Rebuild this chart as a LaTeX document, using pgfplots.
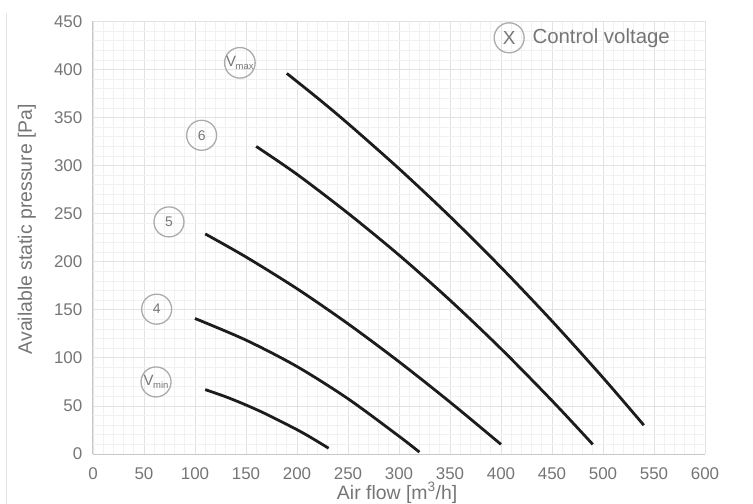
\documentclass[border=0pt]{standalone}
\usepackage{pgfplots}
\pgfplotsset{compat=1.18}
\usepackage{fontspec}
\setmainfont{Liberation Sans}
\definecolor{txt}{HTML}{757575}
\definecolor{gridmaj}{HTML}{E2E2E2}
\definecolor{gridmin}{HTML}{F1F1F1}
\definecolor{axisc}{HTML}{C8C8C8}
\definecolor{circc}{HTML}{ABABAB}
\definecolor{curve}{HTML}{1C1C1C}
\begin{document}
\begin{tikzpicture}
\begin{axis}[
  scale only axis, width=612bp, height=432.5bp,
  xmin=0, xmax=600, ymin=0, ymax=450,
  xtick={0,50,...,600}, ytick={0,50,...,450},
  minor x tick num=4, minor y tick num=4,
  grid=both,
  major grid style={draw=gridmaj, line width=0.8bp},
  minor grid style={draw=gridmin, line width=0.8bp},
  axis x line*=bottom, axis y line*=left,
  axis line style={draw=axisc, line width=1bp, -},
  major tick length=0pt, minor tick length=0pt,
  tick style={draw=none},
  /pgf/number format/assume math mode=true,
  ticklabel style={font=\fontsize{17}{20}\selectfont, text=txt},
  xticklabel style={yshift=-10bp},
  yticklabel style={xshift=-7.2bp},
  xlabel={Air flow [m\textsuperscript{3}/h]},
  ylabel={Available static pressure [Pa]},
  label style={font=\fontsize{19.5}{22}\selectfont, text=txt},
  xlabel style={at={(axis description cs:0.497,-0.090)}, anchor=center},
  ylabel style={at={(axis description cs:-0.108,0.52)}, anchor=center},
  clip=false,
]
\coordinate (O) at (rel axis cs:0,0);
% V_min
\addplot[curve, line width=2.8bp, smooth] coordinates {
 (110,67) (130,59.6) (150,51) (170,41.4) (200,25.3) (215,16.3) (231,6)};
% 4
\addplot[curve, line width=2.8bp, smooth] coordinates {
 (100,141) (150,118.5) (200,91) (250,57.5) (300,18.5) (320,2)};
% 5
\addplot[curve, line width=2.8bp, smooth] coordinates {
 (110,229) (150,205) (200,172) (250,135.5) (300,96) (350,54) (400,10)};
% 6
\addplot[curve, line width=2.8bp, smooth] coordinates {
 (160,320) (200,291) (250,250.5) (300,207) (350,160) (400,109.5) (450,55.5) (490,10)};
% V_max
\addplot[curve, line width=2.8bp, smooth] coordinates {
 (190,396) (220,370.5) (250,343.8) (300,296.9) (350,247.1) (400,194.2) (450,138.3) (500,79.4) (540,30)};

\tikzset{lab/.style={circle, draw=circc, line width=1.3bp, minimum size=30bp, inner sep=0pt, text=txt, font=\fontsize{14}{16}\selectfont}}
\node[lab] at (axis cs:144,407) {\fontsize{15}{15}\selectfont V\kern-0.5pt\raisebox{-3.5bp}{\fontsize{9.5}{9.5}\selectfont max}};
\node[lab] at (axis cs:106.5,331.6) {6};
\node[lab] at (axis cs:74.5,241.5) {5};
\node[lab] at (axis cs:62.4,150.7) {4};
\node[lab] at (axis cs:61.8,75) {\fontsize{15}{15}\selectfont V\kern-0.5pt\raisebox{-3.5bp}{\fontsize{9.5}{9.5}\selectfont min}};
\node[lab, font=\fontsize{19}{21}\selectfont] (X) at (axis cs:408,433) {X};
\node[anchor=west, inner sep=0pt, text=txt, font=\fontsize{20.5}{22}\selectfont] at ([xshift=7.5bp]X.east) {Control voltage};
\end{axis}
\draw[draw=gridmaj, line width=1bp] (O) ++(-86bp,-50bp) -- ++(0,491bp);
\pgfresetboundingbox
\path (O) ++(-93bp,-50bp) rectangle ++(753bp,504bp);
\end{tikzpicture}
\end{document}
